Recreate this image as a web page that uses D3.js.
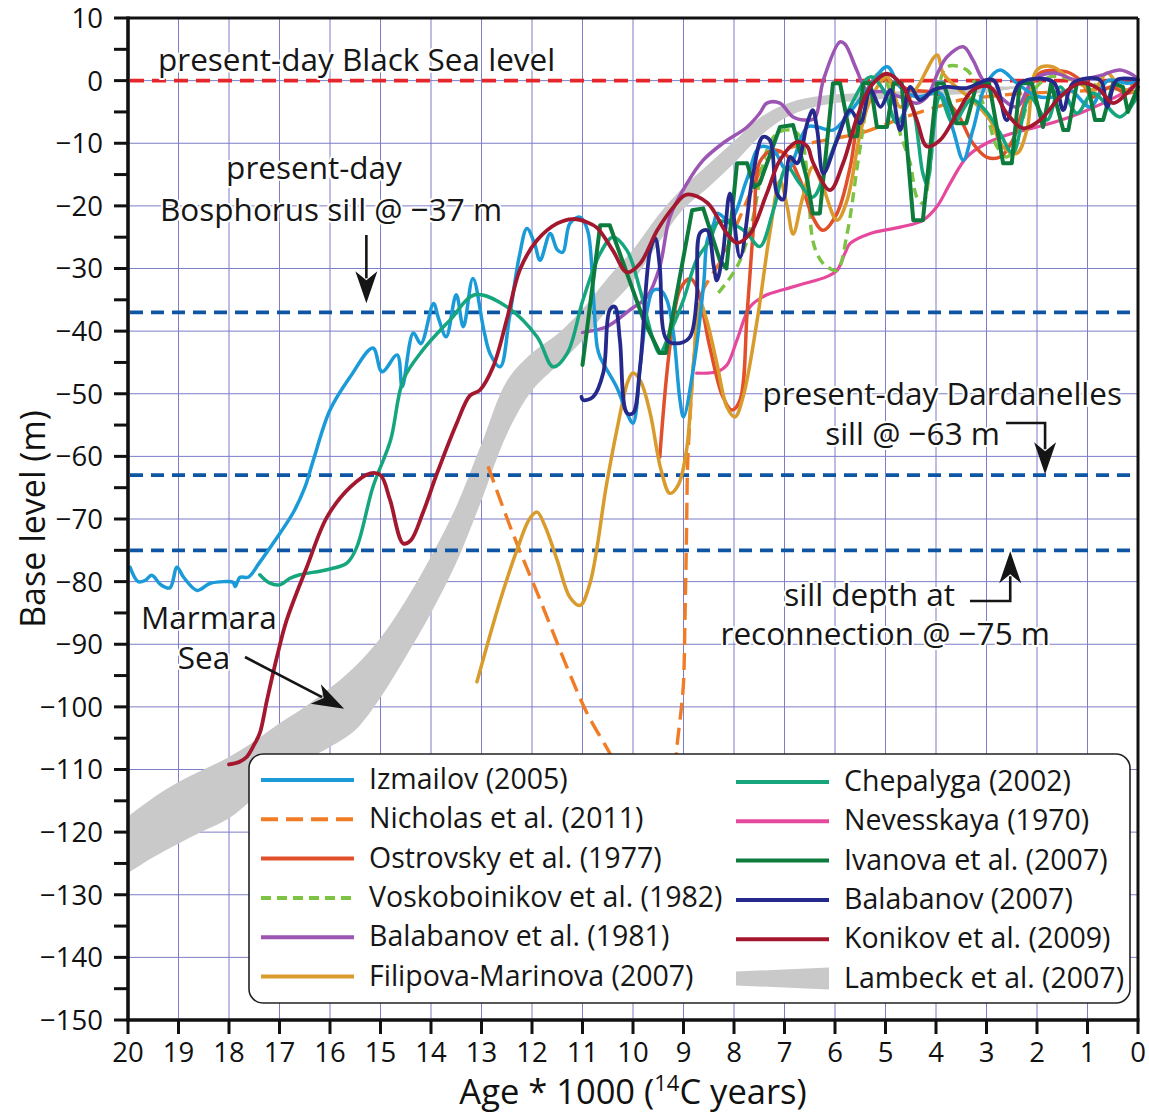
<!DOCTYPE html>
<html>
<head>
<meta charset="utf-8">
<script src="https://cdn.jsdelivr.net/npm/d3@7"></script>
<style>
  html, body { margin: 0; padding: 0; background: #fff; }
  svg { display: block; font-family: "Open Sans", "Noto Sans", sans-serif; }
</style>
</head>
<body>
<svg id="chart" width="1149" height="1115"></svg>
<script>
// ---- Axis ticks ----------------------------------------------------------
const ageTicks = d3.range(0, 21);                 // ka (14C years * 1000)
const levelTicks = d3.range(-150, 11, 10);        // labelled base-level ticks (m)
const levelMinorTicks = d3.range(-145, 10, 10);   // unlabelled 5 m ticks
const referenceLevels = [0, -37, -63, -75];       // present level, Bosphorus, Dardanelles, reconnection

// ---- Reconstructions: [age (ka), base level (m)] ---------------------------
const izmailov = [[19.96,-77.7],[19.8,-80],[19.66,-79.8],[19.53,-79],[19.35,-80.5],[19.17,-81],[19.03,-77.7],[18.9,-79.3],[18.63,-81.4],[18.38,-80.3],[18.1,-80],[17.92,-80.1],[17.88,-80.8],[17.78,-79.3],[17.62,-79.3],[17.4,-77],[17.13,-73.9],[16.73,-69],[16.5,-65],[16.33,-60.6],[16.0,-52.6],[15.6,-47.3],[15.15,-42.7],[14.97,-46.5],[14.67,-43.8],[14.57,-48.9],[14.35,-40.3],[14.2,-42],[13.95,-35.6],[13.85,-38],[13.7,-40.9],[13.5,-34.2],[13.36,-39.3],[13.17,-31.6],[12.95,-40],[12.83,-43.6],[12.63,-45.7],[12.45,-38],[12.25,-28],[12.1,-23.6],[11.95,-26],[11.84,-28.7],[11.64,-24.4],[11.5,-27],[11.39,-27.4],[11.25,-22.8],[11.05,-21.8],[10.9,-23.9],[10.78,-35],[10.71,-42.5],[10.65,-44.2],[10.32,-49],[10.12,-53.1],[10.0,-54.7],[9.85,-45],[9.72,-36.7],[9.6,-33.5],[9.45,-33.5],[9.33,-35],[9.2,-40.3],[9.07,-51],[9.0,-53.7],[8.8,-45.7],[8.6,-32.4],[8.53,-25.5],[8.4,-22.8],[8.33,-21.2],[8.08,-22.3],[7.75,-15.9],[7.49,-10.6],[7.22,-11.1],[6.95,-14.3],[6.55,-7.4],[6.35,-7.4],[6.04,-7.9],[5.7,-5],[5.37,-1.5],[4.97,2.2],[4.71,-1],[4.38,-2.6],[3.92,-2],[3.66,-7.9],[3.46,-12.7],[3.27,-7.9],[3.0,-0.4],[2.73,1.7],[2.4,-0.4],[2.0,-2.5],[1.68,-2.6],[1.35,-1.5],[0.95,-4.2],[0.6,0],[0.22,-0.4],[0.02,-0.2]];

const nicholasEarly = [[12.87,-61.6],[12.38,-72.3],[11.84,-82.9],[11.31,-93.6],[10.91,-101],[10.46,-107.4],[10.3,-110]];
const nicholasLate = [[9.16,-110],[9.13,-106.4],[9.04,-100],[9.0,-96.2],[8.97,-85.7],[8.94,-72.3],[8.92,-61.7],[8.88,-55],[8.8,-45],[8.7,-36],[8.61,-33.4],[8.42,-30.8],[8.22,-28.2],[8.0,-24],[7.62,-17],[7.35,-12.7],[7.0,-11],[6.5,-10],[6.0,-9.2],[5.5,-8.4],[5.0,-7],[4.5,-5.5],[4.18,-4.7],[3.52,-3.1],[2.9,-2.5],[2.2,-2],[1.5,-1.8],[0.89,-1.5],[0.0,-0.4]];

const ostrovsky = [[9.47,-60.1],[9.27,-42.5],[9.07,-33.4],[8.87,-31.6],[8.74,-32.9],[8.48,-42.5],[8.22,-50.5],[8.04,-52.6],[7.88,-51],[7.74,-37.1],[7.6,-22],[7.49,-13],[7.22,-11.1],[6.95,-12],[6.69,-15.9],[6.44,-21.8],[6.24,-23.9],[5.96,-21.2],[5.7,-13.8],[5.5,-4.7],[5.17,0.6],[4.84,-0.4],[4.5,-1.5],[4.0,-2],[3.6,-5],[3.27,-10],[3.0,-12.2],[2.73,-12.2],[2.48,-9.5],[2.2,-2.6],[1.94,1.2],[1.41,1.4],[1.15,0.1],[0.89,-2.6],[0.55,-1],[0.22,-2],[0.0,-1.5]];

const voskoboinikov = [[8.31,-33.9],[8.08,-31.5],[7.88,-28.7],[7.62,-21.8],[7.49,-15.9],[7.35,-11.1],[7.15,-8.4],[6.89,-7.9],[6.69,-8.9],[6.55,-15],[6.44,-25.5],[6.3,-28.5],[6.16,-29.7],[5.96,-30.3],[5.76,-24.4],[5.56,-13.8],[5.44,-7.4],[5.3,-0.4],[5.1,1.2],[4.9,-2],[4.71,-8.4],[4.51,-13.2],[4.38,-18.6],[4.26,-19.6],[4.12,-14.3],[3.98,-2.6],[3.78,2.2],[3.39,1.7],[3.2,-1],[3.0,-5.2],[2.79,-10.6],[2.6,-12.2],[2.4,-9.5],[2.1,-2],[1.74,0.6],[1.21,0],[0.7,-1],[0.3,-1.5],[0.0,-2]];

const balabanov1981 = [[11.0,-40.2],[10.52,-39.3],[10.06,-36.6],[9.72,-34.5],[9.47,-29.7],[9.27,-21.8],[8.93,-16.4],[8.61,-12.7],[8.22,-10],[7.74,-7.4],[7.49,-5.2],[7.35,-3.6],[7.09,-3.6],[6.83,-5.8],[6.55,-6.3],[6.4,-6],[6.23,0.1],[5.9,6.2],[5.8,5.8],[5.57,1.7],[5.37,-1.5],[5.0,-1.8],[4.71,-2.6],[4.38,-3.6],[4.18,-2.6],[3.95,1.5],[3.78,3.8],[3.46,5.4],[3.27,3.3],[3.07,0.1],[2.73,-2.6],[2.4,-4.2],[2.08,0.1],[1.68,1.2],[1.21,0.1],[0.75,0.8],[0.36,1.7],[0.1,0.9],[0.0,0.2]];

const filipovaMarinova = [[13.09,-96],[12.63,-83],[12.3,-75],[12.05,-70],[11.9,-68.9],[11.75,-71],[11.5,-76.6],[11.25,-82.5],[11.05,-83.8],[10.85,-80.2],[10.52,-64.3],[10.3,-55],[10.1,-48],[10.0,-46.7],[9.85,-48],[9.66,-53.1],[9.45,-62],[9.27,-65.9],[9.1,-64.5],[8.94,-59],[8.8,-45],[8.67,-35.5],[8.55,-38],[8.34,-45.1],[8.14,-52.1],[7.98,-53.7],[7.82,-50.5],[7.54,-38.2],[7.29,-24.3],[7.09,-16],[6.95,-20],[6.83,-24.5],[6.65,-19],[6.44,-13.8],[6.24,-17],[5.96,-22.3],[5.76,-19.1],[5.5,-8.4],[5.3,-3.1],[4.97,0.6],[4.71,-4.2],[4.45,-2],[4.32,-0.4],[3.98,4.1],[3.86,1.2],[3.6,-1],[3.3,-3],[2.93,-6.3],[2.67,-10.6],[2.4,-11.6],[2.2,-7.9],[2.0,1.7],[1.68,2.2],[1.41,0.6],[1.15,-0.5],[0.89,-1.5],[0.61,1.2],[0.36,-1],[0.02,-2]];

const chepalyga = [[17.39,-78.9],[17.2,-80.2],[16.99,-80.5],[16.8,-79.5],[16.6,-78.9],[16.06,-78.1],[15.66,-77],[15.47,-74.5],[15.15,-64.9],[14.8,-57.4],[14.55,-47.8],[14.16,-43],[13.62,-38.2],[13.13,-34.2],[12.5,-36.1],[11.9,-40.9],[11.58,-45.7],[11.3,-43.5],[10.99,-35],[10.65,-27.6],[10.4,-25],[10.12,-27.1],[9.86,-33.4],[9.6,-41.4],[9.47,-43.5],[9.27,-40.3],[9.0,-35],[8.74,-28.6],[8.48,-25.5],[8.3,-22.5],[8.0,-23],[7.75,-24.3],[7.49,-26.5],[7.22,-20.7],[6.95,-13.8],[6.7,-16.4],[6.44,-18.6],[6.1,-12.2],[5.7,-4.2],[5.3,0.6],[5.04,-1.5],[4.77,-6.8],[4.51,-3.6],[4.26,-14.8],[4.18,-16.4],[3.92,-2.6],[3.66,-6.8],[3.3,-3],[3.0,-5],[2.73,-8.4],[2.48,-11.6],[2.14,-2.6],[1.8,-6.3],[1.54,-1],[1.21,-5.2],[0.89,-2],[0.36,-5.8],[0.02,-2.6]];

const nevesskaya = [[8.74,-46.7],[8.34,-46.5],[8.14,-45.4],[7.94,-41.4],[7.68,-36.1],[7.35,-34.2],[7.03,-33.4],[6.69,-32.6],[6.16,-31.3],[5.96,-30.3],[5.8,-27.5],[5.7,-26],[5.3,-24.4],[4.71,-23.4],[4.26,-22.3],[3.98,-20.1],[3.72,-16.4],[3.39,-12.2],[3.0,-10],[2.48,-8.4],[2.0,-7.4],[1.6,-6.5],[1.15,-5.2],[0.69,-3.6],[0.3,-2],[0.0,-0.4]];

const ivanova = [[11.0,-45.4],[10.65,-23.1],[10.46,-23.1],[9.8,-38],[9.47,-43.5],[9.35,-43.5],[8.83,-20.7],[8.61,-20.4],[8.28,-28.7],[8.15,-30],[7.94,-13.2],[7.74,-13.2],[7.6,-17],[7.49,-16.4],[7.09,-7.4],[6.83,-7.1],[6.55,-15.9],[6.44,-21.2],[6.3,-21.2],[6.04,-0.4],[5.9,-0.4],[5.7,-8.9],[5.56,-8.9],[5.44,-0.4],[5.3,-0.4],[5.17,-7.4],[4.97,-7.4],[4.84,-0.4],[4.68,-0.4],[4.45,-22.3],[4.26,-22.3],[3.98,-0.4],[3.85,-0.4],[3.6,-6.8],[3.4,-6.8],[3.19,-0.4],[2.95,-0.4],[2.67,-13.2],[2.5,-13.2],[2.34,-0.4],[2.1,-0.4],[1.88,-7.4],[1.72,-0.4],[1.48,-7.9],[1.38,-7.9],[1.21,-0.4],[1.0,-0.4],[0.85,-6.3],[0.69,-6.3],[0.49,-0.4],[0.3,-1],[0.2,-5],[0.0,-1]];

const balabanov2007 = [[11.02,-50.5],[10.99,-51],[10.79,-50.5],[10.59,-46.7],[10.46,-36.6],[10.36,-36.1],[10.26,-41.4],[10.12,-53.1],[10.0,-53.1],[9.86,-45.7],[9.66,-27.1],[9.56,-25.2],[9.47,-29.7],[9.33,-41.4],[9.07,-41.9],[8.87,-40.9],[8.74,-35],[8.67,-24.3],[8.53,-23.9],[8.4,-29.7],[8.34,-31.9],[8.22,-27.6],[8.08,-18],[7.88,-28.2],[7.62,-14.8],[7.43,-9],[7.29,-9.5],[7.15,-18],[7.03,-19],[6.89,-12.2],[6.75,-13.2],[6.55,-6.8],[6.44,-4.7],[6.35,-8],[6.23,-14.8],[5.96,-9.5],[5.7,-4.7],[5.5,-6.8],[5.3,-1.5],[5.1,-4.2],[4.9,-1.5],[4.71,-7.9],[4.51,-1],[4.32,-3.1],[4.05,-1.5],[3.78,-1],[3.4,-1.2],[2.87,0.1],[2.6,-6.3],[2.34,-0.4],[1.68,-0.2],[1.48,-4.7],[1.29,-0.4],[0.75,0.1],[0.61,-4.2],[0.42,0.1],[0.0,0.1]];

const konikov = [[18.0,-109.2],[17.8,-108.8],[17.65,-108],[17.5,-106],[17.39,-104.2],[17.25,-99],[17.05,-92],[16.86,-86.2],[16.46,-77.7],[16.06,-69.7],[15.6,-64.9],[15.2,-62.7],[15.0,-63],[14.81,-67],[14.55,-73.9],[14.4,-73.4],[14.16,-69],[13.88,-62.7],[13.49,-54.7],[13.23,-50.3],[13.03,-49.4],[12.77,-45.7],[12.5,-38.2],[12.24,-30.2],[11.9,-25.5],[11.5,-22.8],[11.19,-22.1],[10.91,-22.6],[10.71,-23.5],[10.4,-27.1],[10.12,-30.6],[9.86,-29.2],[9.52,-23.9],[9.2,-20.2],[8.94,-18.2],[8.53,-19.5],[8.14,-24.4],[7.94,-25.9],[7.68,-24.4],[7.35,-18],[7.09,-12.7],[6.75,-9.8],[6.55,-10.5],[6.44,-13],[6.1,-17.5],[5.84,-13.2],[5.56,-5.8],[5.3,-1],[4.97,1.1],[4.65,-1],[4.38,-6.3],[4.18,-10.5],[3.92,-9.5],[3.58,-5.2],[3.27,-1.5],[2.93,-1],[2.6,-5.2],[2.28,-7.6],[1.94,-6.3],[1.54,-2.6],[1.15,-0.4],[0.8,-1.2],[0.49,-3.6],[0.22,-2],[0.02,-0.4]];

// Lambeck et al. (2007) Marmara Sea envelope: upper and lower bounds
const lambeckAge    = [20, 19.5, 19, 18.5, 18, 17.5, 17, 16.5, 16, 15.5, 15, 14.5, 14, 13.5, 13, 12.5, 12, 11.5, 11, 10.5, 10, 9.5, 9, 8.5, 8, 7.5, 7, 6.5, 6, 5, 4, 3, 2.4];
const lambeckTop    = [-117.5,-114.5,-112,-110,-108,-105.5,-102.6,-100,-97,-93.5,-89,-83,-76,-68,-58,-48,-43.5,-40.5,-36.5,-31.5,-27,-21.5,-17,-13.3,-9.7,-6,-3.8,-2.7,-2.2,-1.8,-1.4,-1.0,-0.9];
const lambeckBottom = [-126.5,-124,-121.8,-119.8,-117.8,-114.5,-111,-108.5,-106.4,-103.7,-98.5,-92,-85,-77,-67,-56.5,-49.5,-45.5,-41.5,-36.5,-32,-26,-20.5,-17,-13.2,-9,-6,-4.4,-3.6,-2.9,-2.4,-1.9,-1.2];

// ---- Series registry (drawing order: first = bottom) -----------------------
const seriesList = [
  { key: "nevesskaya",  label: "Nevesskaya (1970)",           parts: [nevesskaya] },
  { key: "nicholas",    label: "Nicholas et al. (2011)",      parts: [nicholasEarly, nicholasLate] },
  { key: "voskob",      label: "Voskoboinikov et al. (1982)", parts: [voskoboinikov] },
  { key: "ostrovsky",   label: "Ostrovsky et al. (1977)",     parts: [ostrovsky] },
  { key: "filipova",    label: "Filipova-Marinova (2007)",    parts: [filipovaMarinova] },
  { key: "balab81",     label: "Balabanov et al. (1981)",     parts: [balabanov1981] },
  { key: "izmailov",    label: "Izmailov (2005)",             parts: [izmailov] },
  { key: "chepalyga",   label: "Chepalyga (2002)",            parts: [chepalyga] },
  { key: "ivanova",     label: "Ivanova et al. (2007)",       parts: [ivanova] },
  { key: "balab07",     label: "Balabanov (2007)",            parts: [balabanov2007] },
  { key: "konikov",     label: "Konikov et al. (2009)",       parts: [konikov] }
];
const legendLeft  = ["izmailov", "nicholas", "ostrovsky", "voskob", "balab81", "filipova"];
const legendRight = ["chepalyga", "nevesskaya", "ivanova", "balab07", "konikov", "lambeck"];

// ---- Styles ---------------------------------------------------------------
const styles = {
  izmailov:   { color: "#1b9ad8", width: 3.5 },
  nicholas:   { color: "#f07c26", width: 3.4, dash: "17 8" },
  ostrovsky:  { color: "#e1502a", width: 3.5 },
  voskob:     { color: "#7cc243", width: 3.4, dash: "10 6" },
  balab81:    { color: "#9d55b3", width: 3.5 },
  filipova:   { color: "#d99b2b", width: 3.5 },
  chepalyga:  { color: "#16a67d", width: 3.5 },
  nevesskaya: { color: "#e6489b", width: 3.2 },
  ivanova:    { color: "#0c7b3c", width: 4.0, linear: true },
  balab07:    { color: "#25298b", width: 3.8 },
  konikov:    { color: "#a3182f", width: 3.8 },
  lambeck:    { color: "#c9c9c9" }
};

// ---- Scales ---------------------------------------------------------------
const plot = { left: 128, right: 1138, top: 18, bottom: 1020 };
const x = d3.scaleLinear().domain([20, 0]).range([plot.left, plot.right]);
const y = d3.scaleLinear().domain([10, -150]).range([plot.top, plot.bottom]);

const svg = d3.select("#chart");
const fmt = v => (v < 0 ? "\u2212" + Math.abs(v) : String(v));

// ---- Grid -----------------------------------------------------------------
const grid = svg.append("g").attr("stroke", "#7d7dc8").attr("stroke-width", 1);
grid.selectAll(".gv").data(ageTicks.filter(d => d > 0 && d < 20)).join("line")
  .attr("x1", d => x(d)).attr("x2", d => x(d))
  .attr("y1", y(10)).attr("y2", y(-150));
grid.selectAll(".gh").data(levelTicks.filter(d => d > -150 && d < 10)).join("line")
  .attr("x1", x(20)).attr("x2", x(0))
  .attr("y1", d => y(d)).attr("y2", d => y(d));

// ---- Lambeck envelope -----------------------------------------------------
const band = d3.area()
  .x((d, i) => x(lambeckAge[i]))
  .y0((d, i) => y(lambeckBottom[i]))
  .y1((d, i) => y(lambeckTop[i]))
  .curve(d3.curveCatmullRom.alpha(0.5));
svg.append("path").datum(lambeckAge).attr("d", band)
  .attr("fill", styles.lambeck.color).attr("stroke", "none");

// ---- Reference levels -----------------------------------------------------
svg.append("g").selectAll("line").data(referenceLevels).join("line")
  .attr("x1", x(20) + 2).attr("x2", x(0))
  .attr("y1", d => y(d)).attr("y2", d => y(d))
  .attr("stroke", d => d === 0 ? "#e5262b" : "#0e56a4")
  .attr("stroke-width", 3.8)
  .attr("stroke-dasharray", d => d === 0 ? "14 8" : "13 8");

// ---- Reconstruction curves ------------------------------------------------
const smooth = d3.line().x(d => x(d[0])).y(d => y(d[1])).curve(d3.curveCatmullRom.alpha(0.5));
const straight = d3.line().x(d => x(d[0])).y(d => y(d[1]));
const curves = svg.append("g").attr("fill", "none")
  .attr("stroke-linejoin", "round").attr("stroke-linecap", "round");
seriesList.forEach(s => {
  const st = styles[s.key];
  s.parts.forEach(part => {
    curves.append("path").datum(part)
      .attr("d", st.linear ? straight : smooth)
      .attr("stroke", st.color)
      .attr("stroke-width", st.width)
      .attr("stroke-linecap", st.dash ? "butt" : "round")
      .attr("stroke-dasharray", st.dash || null);
  });
});

// ---- Frame and axes -------------------------------------------------------
const frame = svg.append("g").attr("stroke", "#111").attr("fill", "none");
frame.append("line").attr("x1", x(20)).attr("x2", x(0)).attr("y1", y(10)).attr("y2", y(10)).attr("stroke-width", 3);
frame.append("line").attr("x1", x(0)).attr("x2", x(0)).attr("y1", y(10)).attr("y2", y(-150)).attr("stroke-width", 3);
frame.append("line").attr("x1", x(20)).attr("x2", x(20)).attr("y1", y(10) - 1.5).attr("y2", y(-150) + 1.7).attr("stroke-width", 3.6);
frame.append("line").attr("x1", x(20) - 1.8).attr("x2", x(0) + 1.5).attr("y1", y(-150)).attr("y2", y(-150)).attr("stroke-width", 3.6);

frame.selectAll(".ty").data(levelTicks.concat(levelMinorTicks)).join("line")
  .attr("x1", x(20) - 14).attr("x2", x(20))
  .attr("y1", d => y(d)).attr("y2", d => y(d)).attr("stroke-width", 3);
frame.selectAll(".tx").data(ageTicks).join("line")
  .attr("x1", d => x(d)).attr("x2", d => x(d))
  .attr("y1", y(-150)).attr("y2", y(-150) + 14).attr("stroke-width", 3);

const labels = svg.append("g").attr("fill", "#111").attr("font-size", 27.5);
labels.selectAll(".ly").data(levelTicks).join("text")
  .attr("x", x(20) - 25).attr("y", d => y(d)).attr("dy", "0.36em")
  .attr("text-anchor", "end").text(fmt);
labels.selectAll(".lx").data(ageTicks).join("text")
  .attr("x", d => x(d)).attr("y", y(-150) + 42)
  .attr("text-anchor", "middle").text(d => d);

// axis titles
svg.append("text").attr("transform", `translate(45,${(y(10) + y(-150)) / 2}) rotate(-90)`)
  .attr("text-anchor", "middle").attr("font-size", 34).attr("fill", "#111")
  .text("Base level (m)");
const xt = svg.append("text").attr("x", (x(20) + x(0)) / 2).attr("y", 1104)
  .attr("text-anchor", "middle").attr("font-size", 34.5).attr("fill", "#111");
xt.append("tspan").text("Age * 1000 (");
xt.append("tspan").attr("font-size", 22).attr("dy", -13).text("14");
xt.append("tspan").attr("dy", 13).text("C years)");

// ---- Annotations ----------------------------------------------------------
const notes = [
  { text: "present-day Black Sea level", x: 158, y: 71, anchor: "start" },
  { text: "present-day", x: 314, y: 179, anchor: "middle" },
  { text: "Bosphorus sill @ \u221237 m", x: 160, y: 221, anchor: "start" },
  { text: "present-day Dardanelles", x: 1122, y: 405, anchor: "end" },
  { text: "sill @ \u221263 m", x: 1000, y: 445, anchor: "end" },
  { text: "sill depth at", x: 955, y: 606, anchor: "end" },
  { text: "reconnection @ \u221275 m", x: 1050, y: 645, anchor: "end" },
  { text: "Marmara", x: 141, y: 629, anchor: "start" },
  { text: "Sea", x: 204, y: 669, anchor: "middle" }
];
svg.append("g").attr("font-size", 31.5).selectAll("text").data(notes).join("text")
  .attr("x", d => d.x).attr("y", d => d.y).attr("text-anchor", d => d.anchor)
  .attr("fill", "#161616").attr("stroke", "#fff").attr("stroke-width", 4)
  .attr("paint-order", "stroke").attr("stroke-linejoin", "round")
  .text(d => d.text);

// arrows: polyline + barbed head at the last point
function arrow(points) {
  const g = svg.append("g");
  const [tx, ty] = points[points.length - 1];
  const [px, py] = points[points.length - 2];
  const ang = Math.atan2(ty - py, tx - px);
  const L = 32, W = 11, N = 23;
  const ux = Math.cos(ang), uy = Math.sin(ang);
  const back = points.slice();
  back[back.length - 1] = [tx - ux * (N + 2), ty - uy * (N + 2)];
  g.append("path").attr("d", d3.line()(back))
    .attr("fill", "none").attr("stroke", "#151515").attr("stroke-width", 2.6);
  const head = [
    [tx, ty],
    [tx - ux * L - uy * W, ty - uy * L + ux * W],
    [tx - ux * N, ty - uy * N],
    [tx - ux * L + uy * W, ty - uy * L - ux * W]
  ];
  g.append("path").attr("d", d3.line()(head) + "Z").attr("fill", "#151515");
}
arrow([[x(15.28), 235], [x(15.28), y(-37) - 9]]);
arrow([[1006, 423], [x(1.84), 423], [x(1.84), y(-63) - 1]]);
arrow([[970, 601], [x(2.53), 601], [x(2.53), y(-75) + 1]]);
arrow([[245, 657], [x(15.72), y(-100.3)]]);

// ---- Legend ---------------------------------------------------------------
const lg = svg.append("g");
lg.append("rect").attr("x", 249).attr("y", 754).attr("width", 881).attr("height", 249)
  .attr("rx", 14).attr("fill", "#fff").attr("stroke", "#222").attr("stroke-width", 1.6);
const labelOf = k => k === "lambeck" ? "Lambeck et al. (2007)" : seriesList.find(s => s.key === k).label;
function legendColumn(keys, x0, y0, step) {
  keys.forEach((k, i) => {
    const yy = y0 + i * step;
    const st = styles[k];
    if (k === "lambeck") {
      lg.append("path").attr("d", d3.line()([[x0, yy - 7], [x0 + 93, yy - 11], [x0 + 93, yy + 11], [x0, yy + 7]]) + "Z")
        .attr("fill", st.color);
    } else {
      lg.append("line").attr("x1", x0).attr("x2", x0 + 93).attr("y1", yy).attr("y2", yy)
        .attr("stroke", st.color).attr("stroke-width", 4)
        .attr("stroke-dasharray", st.dash || null);
    }
    lg.append("text").attr("x", x0 + 108).attr("y", yy + 9).attr("font-size", 28.5)
      .attr("fill", "#161616").text(labelOf(k));
  });
}
legendColumn(legendLeft, 261, 780, 39.3);
legendColumn(legendRight, 736, 782, 39.3);
</script>
</body>
</html>
